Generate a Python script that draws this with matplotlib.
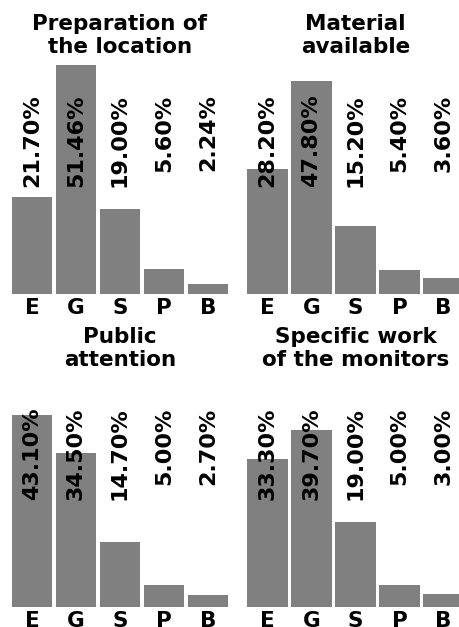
import matplotlib

matplotlib.use("Agg")

import matplotlib.pyplot as plt
from matplotlib.transforms import blended_transform_factory

categories = ["E", "G", "S", "P", "B"]
titles = [
    "Preparation of\nthe location",
    "Material\navailable",
    "Public\nattention",
    "Specific work\nof the monitors",
]
prep_location = [21.70, 51.46, 19.00, 5.60, 2.24]
material_available = [28.20, 47.80, 15.20, 5.40, 3.60]
public_attention = [43.10, 34.50, 14.70, 5.00, 2.70]
monitors_work = [33.30, 39.70, 19.00, 5.00, 3.00]

W, H = 460, 627
BAR_COLOR = "#808080"
FONT = "DejaVu Sans"
YMAX = 55.0
PX_PER_PCT = 4.45
AX_W = 220
AX_H = YMAX * PX_PER_PCT

# left edge, baseline (pixels from top)
panels = [
    (10, 294, titles[0], prep_location),
    (245.5, 294, titles[1], material_available),
    (10, 607, titles[2], public_attention),
    (245.5, 607, titles[3], monitors_work),
]

fig = plt.figure(figsize=(W / 100, H / 100), dpi=100)

for left, base, title, values in panels:
    ax = fig.add_axes([left / W, (H - base) / H, AX_W / W, AX_H / H])
    x = range(len(categories))
    ax.bar(x, values, width=0.93, color=BAR_COLOR)
    ax.set_xlim(-0.5, len(categories) - 0.5)
    ax.set_ylim(0, YMAX)
    ax.set_xticks(list(x))
    ax.set_xticklabels(categories, fontsize=15.5, fontweight="bold", family=FONT)
    ax.tick_params(axis="x", length=0, pad=3)
    ax.set_yticks([])
    for side in ax.spines.values():
        side.set_visible(False)

    trans = blended_transform_factory(ax.transData, ax.transAxes)
    label_top = 199.5 / AX_H
    for i, v in enumerate(values):
        ax.text(i, label_top, f"{v:.2f}%", rotation=90, ha="center", va="top",
                fontsize=16, fontweight="bold", family=FONT, transform=trans)

    title_top = 1 + (base - AX_H - 14 - (base - 294)) / AX_H
    ax.text(0.5, title_top, title, ha="center", va="top", fontsize=15.5,
            fontweight="bold", family=FONT, transform=ax.transAxes)

fig.savefig("out.png", dpi=100)
